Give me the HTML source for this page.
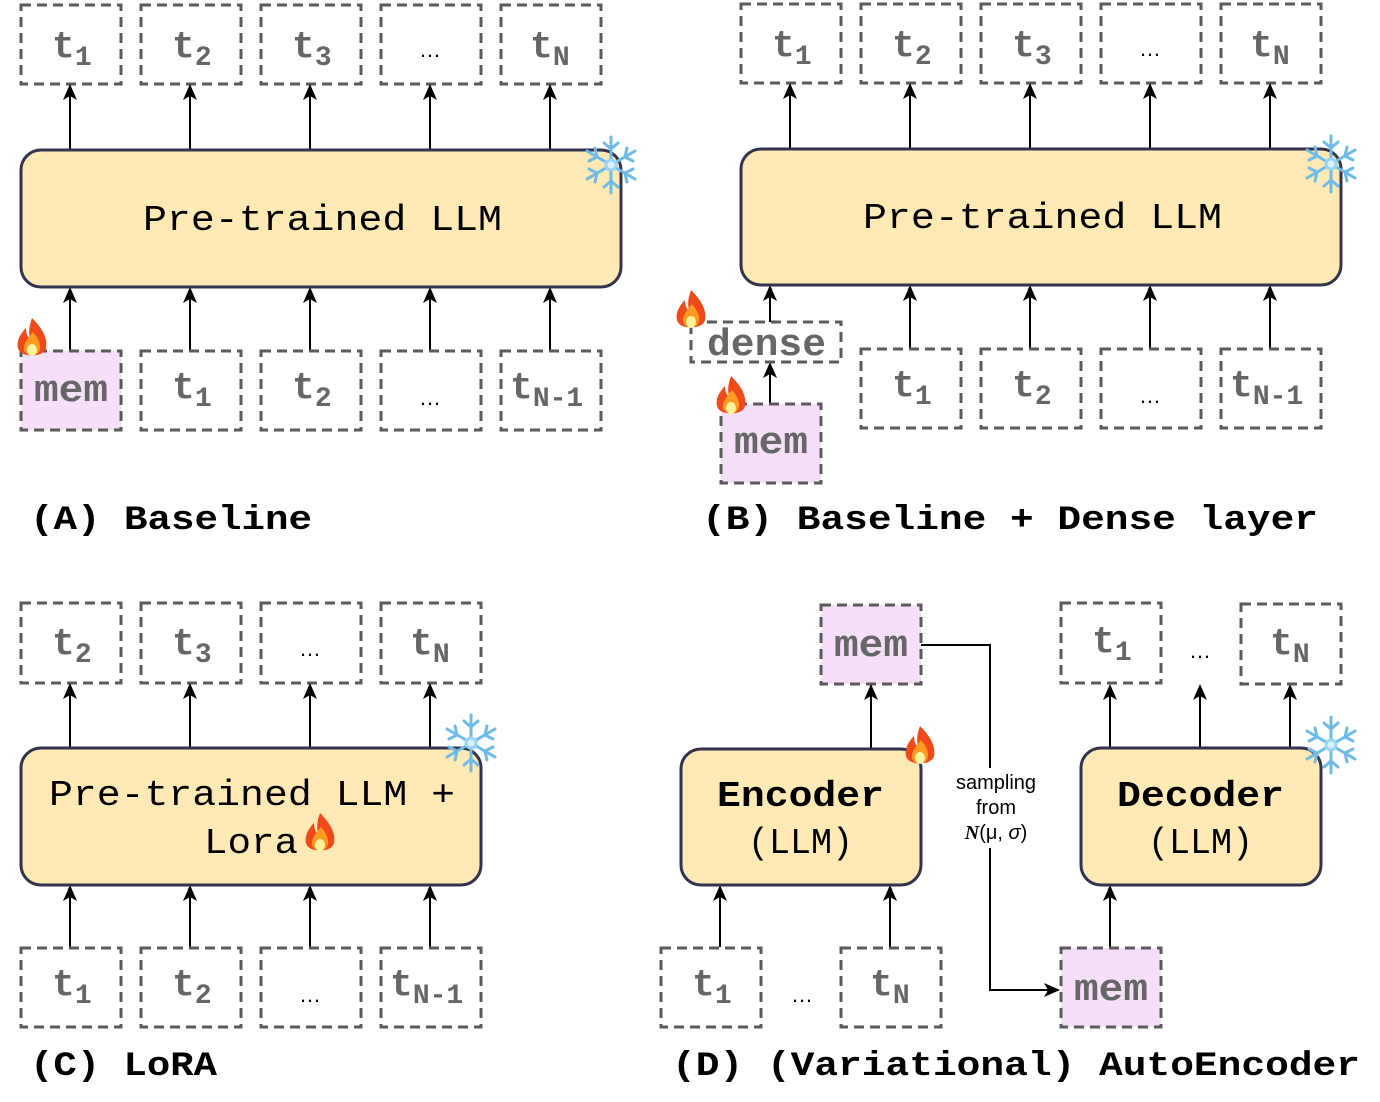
<!DOCTYPE html>
<html><head><meta charset="utf-8"><style>
html,body{margin:0;padding:0;background:#fff}
svg{display:block}
.tk{fill:none;stroke:#5a5a5a;stroke-width:3;stroke-dasharray:10 6}
.mm{fill:#f5dff9;stroke:#5a5a5a;stroke-width:3;stroke-dasharray:10 6}
.llm{fill:#ffeab6;stroke:#33334d;stroke-width:3}
.t{font-family:"Liberation Mono",monospace;font-weight:bold;font-size:38px;fill:#666}
.s{font-size:28px}
.dots{font-family:"Liberation Sans",sans-serif;font-size:22px;fill:#000}
.big{font-family:"Liberation Mono",monospace;font-size:36px;fill:#000}
.lab{font-family:"Liberation Mono",monospace;font-weight:bold;font-size:34px;fill:#000}
.ar{stroke:#000;stroke-width:2;fill:none}
.smp{font-family:"Liberation Sans",sans-serif;font-size:20px;fill:#000}
</style></head><body>
<svg width="1380" height="1102" viewBox="0 0 1380 1102" xmlns="http://www.w3.org/2000/svg">
<defs>
<marker id="au" markerWidth="16" markerHeight="16" refX="14" refY="7" orient="auto" markerUnits="userSpaceOnUse" viewBox="0 0 16 14"><path d="M0,0 L16,7 L0,14 L4,7 z" fill="#000"/></marker>
<g id="flame"><path d="M0,-22 C10,-12 16,-2 14,8 C12,18 -12,18 -14,8 C-16,0 -10,-8 -6,-12 C-6,-6 -4,-2 -2,-2 C-4,-10 -2,-16 0,-22z" fill="#f04a1a"/><path d="M1,-8 C8,0 10,8 6,13 C2,17 -6,16 -8,10 C-9,4 -4,-2 1,-8z" fill="#ff9a22"/><ellipse cx="0" cy="10" rx="5" ry="6" fill="#fff3a0"/></g>
<g id="snow" stroke="#6fbbe8" stroke-width="3" stroke-linecap="round" fill="none"><path d="M0,-28V28M-24,-14L24,14M-24,14L24,-14"/><path d="M-7,-22L0,-16L7,-22M-7,22L0,16L7,22M-22,-4L-14,-8L-16,-17M22,4L14,8L16,17M22,-4L14,-8L16,-17M-22,4L-14,8L-16,17"/><circle r="5" fill="#d8f0ff" stroke="#9ad4f5"/></g>
</defs>

<!-- Panel A -->
<g>
<rect class="tk" x="21" y="5" width="100" height="79"/><text class="t" x="52" y="57">t<tspan class="s" dy="8">1</tspan></text>
<rect class="tk" x="141" y="5" width="100" height="79"/><text class="t" x="172" y="57">t<tspan class="s" dy="8">2</tspan></text>
<rect class="tk" x="261" y="5" width="100" height="79"/><text class="t" x="292" y="57">t<tspan class="s" dy="8">3</tspan></text>
<rect class="tk" x="381" y="5" width="100" height="79"/><text class="dots" x="430" y="57" text-anchor="middle">…</text>
<rect class="tk" x="501" y="5" width="100" height="79"/><text class="t" x="530" y="57">t<tspan class="s" dy="8">N</tspan></text>
<g class="ar" marker-end="url(#au)"><line x1="70" y1="150" x2="70" y2="86"/><line x1="190" y1="150" x2="190" y2="86"/><line x1="310" y1="150" x2="310" y2="86"/><line x1="430" y1="150" x2="430" y2="86"/><line x1="550" y1="150" x2="550" y2="86"/>
<line x1="70" y1="350" x2="70" y2="289"/><line x1="190" y1="350" x2="190" y2="289"/><line x1="310" y1="350" x2="310" y2="289"/><line x1="430" y1="350" x2="430" y2="289"/><line x1="550" y1="350" x2="550" y2="289"/></g>
<rect class="llm" x="21" y="150" width="600" height="137" rx="20"/>
<text class="big" x="143" y="230" textLength="359" lengthAdjust="spacingAndGlyphs">Pre-trained LLM</text>
<use href="#snow" x="611" y="165"/>
<rect class="mm" x="21" y="351" width="100" height="79"/><text class="t" x="34" y="401" textLength="74" lengthAdjust="spacingAndGlyphs">mem</text>
<use href="#flame" x="32" y="340"/>
<rect class="tk" x="141" y="351" width="100" height="79"/><text class="t" x="172" y="398">t<tspan class="s" dy="8">1</tspan></text>
<rect class="tk" x="261" y="351" width="100" height="79"/><text class="t" x="292" y="398">t<tspan class="s" dy="8">2</tspan></text>
<rect class="tk" x="381" y="351" width="100" height="79"/><text class="dots" x="430" y="405" text-anchor="middle">…</text>
<rect class="tk" x="501" y="351" width="100" height="79"/><text class="t" x="510" y="398">t<tspan class="s" dy="8">N-1</tspan></text>
<text class="lab" x="30" y="529" textLength="282" lengthAdjust="spacingAndGlyphs">(A) Baseline</text>
</g>

<!-- Panel B -->
<g>
<rect class="tk" x="741" y="4" width="100" height="79"/><text class="t" x="772" y="56">t<tspan class="s" dy="8">1</tspan></text>
<rect class="tk" x="861" y="4" width="100" height="79"/><text class="t" x="892" y="56">t<tspan class="s" dy="8">2</tspan></text>
<rect class="tk" x="981" y="4" width="100" height="79"/><text class="t" x="1012" y="56">t<tspan class="s" dy="8">3</tspan></text>
<rect class="tk" x="1101" y="4" width="100" height="79"/><text class="dots" x="1150" y="56" text-anchor="middle">…</text>
<rect class="tk" x="1221" y="4" width="100" height="79"/><text class="t" x="1250" y="56">t<tspan class="s" dy="8">N</tspan></text>
<g class="ar" marker-end="url(#au)"><line x1="790" y1="149" x2="790" y2="85"/><line x1="910" y1="149" x2="910" y2="85"/><line x1="1030" y1="149" x2="1030" y2="85"/><line x1="1150" y1="149" x2="1150" y2="85"/><line x1="1270" y1="149" x2="1270" y2="85"/>
<line x1="770" y1="322" x2="770" y2="287"/><line x1="910" y1="348" x2="910" y2="287"/><line x1="1030" y1="348" x2="1030" y2="287"/><line x1="1150" y1="348" x2="1150" y2="287"/><line x1="1270" y1="348" x2="1270" y2="287"/>
<line x1="770" y1="403" x2="770" y2="364"/></g>
<rect class="llm" x="741" y="149" width="600" height="136" rx="20"/>
<text class="big" x="863" y="228" textLength="359" lengthAdjust="spacingAndGlyphs">Pre-trained LLM</text>
<use href="#snow" x="1331" y="164"/>
<rect class="tk" x="691" y="322" width="150" height="40"/><text class="t" x="707" y="355" textLength="119" lengthAdjust="spacingAndGlyphs">dense</text>
<use href="#flame" x="691" y="312"/>
<rect class="mm" x="721" y="404" width="100" height="79"/><text class="t" x="734" y="453" textLength="74" lengthAdjust="spacingAndGlyphs">mem</text>
<use href="#flame" x="731" y="398"/>
<rect class="tk" x="861" y="349" width="100" height="79"/><text class="t" x="892" y="396">t<tspan class="s" dy="8">1</tspan></text>
<rect class="tk" x="981" y="349" width="100" height="79"/><text class="t" x="1012" y="396">t<tspan class="s" dy="8">2</tspan></text>
<rect class="tk" x="1101" y="349" width="100" height="79"/><text class="dots" x="1150" y="403" text-anchor="middle">…</text>
<rect class="tk" x="1221" y="349" width="100" height="79"/><text class="t" x="1230" y="396">t<tspan class="s" dy="8">N-1</tspan></text>
<text class="lab" x="702" y="529" textLength="616" lengthAdjust="spacingAndGlyphs">(B) Baseline + Dense layer</text>
</g>

<!-- Panel C -->
<g>
<rect class="tk" x="21" y="603" width="100" height="80"/><text class="t" x="52" y="654">t<tspan class="s" dy="8">2</tspan></text>
<rect class="tk" x="141" y="603" width="100" height="80"/><text class="t" x="172" y="654">t<tspan class="s" dy="8">3</tspan></text>
<rect class="tk" x="261" y="603" width="100" height="80"/><text class="dots" x="310" y="656" text-anchor="middle">…</text>
<rect class="tk" x="381" y="603" width="100" height="80"/><text class="t" x="410" y="654">t<tspan class="s" dy="8">N</tspan></text>
<g class="ar" marker-end="url(#au)"><line x1="70" y1="747" x2="70" y2="685"/><line x1="190" y1="747" x2="190" y2="685"/><line x1="310" y1="747" x2="310" y2="685"/><line x1="430" y1="747" x2="430" y2="685"/>
<line x1="70" y1="947" x2="70" y2="887"/><line x1="190" y1="947" x2="190" y2="887"/><line x1="310" y1="947" x2="310" y2="887"/><line x1="430" y1="947" x2="430" y2="887"/></g>
<rect class="llm" x="21" y="748" width="460" height="137" rx="20"/>
<text class="big" x="49" y="805" textLength="406" lengthAdjust="spacingAndGlyphs">Pre-trained LLM +</text>
<text class="big" x="204" y="853" textLength="94" lengthAdjust="spacingAndGlyphs">Lora</text>
<use href="#flame" x="320" y="835"/>
<use href="#snow" x="471" y="743"/>
<rect class="tk" x="21" y="948" width="100" height="79"/><text class="t" x="52" y="995">t<tspan class="s" dy="8">1</tspan></text>
<rect class="tk" x="141" y="948" width="100" height="79"/><text class="t" x="172" y="995">t<tspan class="s" dy="8">2</tspan></text>
<rect class="tk" x="261" y="948" width="100" height="79"/><text class="dots" x="310" y="1002" text-anchor="middle">…</text>
<rect class="tk" x="381" y="948" width="100" height="79"/><text class="t" x="390" y="995">t<tspan class="s" dy="8">N-1</tspan></text>
<text class="lab" x="30" y="1075" textLength="187" lengthAdjust="spacingAndGlyphs">(C) LoRA</text>
</g>

<!-- Panel D -->
<g>
<rect class="mm" x="821" y="605" width="100" height="79"/><text class="t" x="834" y="656" textLength="74" lengthAdjust="spacingAndGlyphs">mem</text>
<polyline class="ar" points="921,645 990,645 990,768"/>
<polyline class="ar" points="990,848 990,990 1058,990" marker-end="url(#au)"/>
<text class="smp" x="996" y="789" text-anchor="middle">sampling</text>
<text class="smp" x="996" y="814" text-anchor="middle">from</text>
<text class="smp" x="996" y="839" text-anchor="middle"><tspan font-family="Liberation Serif" font-weight="bold" font-style="italic">N</tspan>(μ, <tspan font-style="italic">σ</tspan>)</text>
<g class="ar" marker-end="url(#au)"><line x1="871" y1="749" x2="871" y2="686"/><line x1="720" y1="947" x2="720" y2="887"/><line x1="890" y1="947" x2="890" y2="887"/>
<line x1="1110" y1="748" x2="1110" y2="686"/><line x1="1200" y1="748" x2="1200" y2="686"/><line x1="1290" y1="748" x2="1290" y2="686"/><line x1="1110" y1="948" x2="1110" y2="887"/></g>
<rect class="llm" x="681" y="749" width="240" height="136" rx="20"/>
<text class="big" x="717" y="806" font-weight="bold" textLength="167" lengthAdjust="spacingAndGlyphs">Encoder</text>
<text class="big" x="748" y="853" textLength="105" lengthAdjust="spacingAndGlyphs">(LLM)</text>
<use href="#flame" x="920" y="748"/>
<rect class="llm" x="1081" y="748" width="240" height="137" rx="20"/>
<text class="big" x="1117" y="806" font-weight="bold" textLength="167" lengthAdjust="spacingAndGlyphs">Decoder</text>
<text class="big" x="1148" y="853" textLength="105" lengthAdjust="spacingAndGlyphs">(LLM)</text>
<use href="#snow" x="1331" y="745"/>
<rect class="tk" x="661" y="948" width="100" height="79"/><text class="t" x="692" y="995">t<tspan class="s" dy="8">1</tspan></text>
<text class="dots" x="802" y="1002" text-anchor="middle">…</text>
<rect class="tk" x="841" y="948" width="100" height="79"/><text class="t" x="870" y="995">t<tspan class="s" dy="8">N</tspan></text>
<rect class="tk" x="1061" y="603" width="100" height="80"/><text class="t" x="1092" y="652">t<tspan class="s" dy="8">1</tspan></text>
<text class="dots" x="1200" y="658" text-anchor="middle">…</text>
<rect class="tk" x="1241" y="604" width="100" height="80"/><text class="t" x="1270" y="654">t<tspan class="s" dy="8">N</tspan></text>
<rect class="mm" x="1061" y="948" width="100" height="79"/><text class="t" x="1074" y="1000" textLength="74" lengthAdjust="spacingAndGlyphs">mem</text>
<text class="lab" x="672" y="1075" textLength="688" lengthAdjust="spacingAndGlyphs">(D) (Variational) AutoEncoder</text>
</g>
</svg>
</body></html>
